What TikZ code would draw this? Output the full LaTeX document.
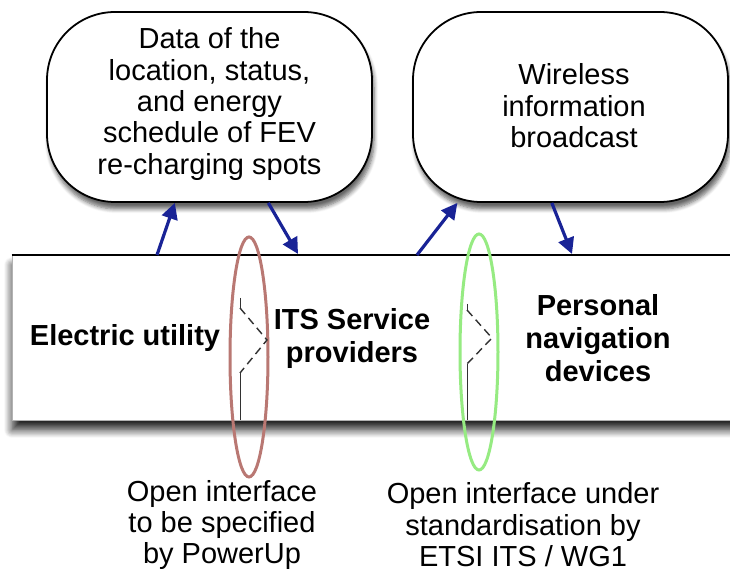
\documentclass[tikz,border=0pt]{standalone}
\usepackage{fontspec}
\setmainfont{Liberation Sans}
\usetikzlibrary{arrows.meta,shadows.blur,shapes.geometric,calc}
\definecolor{arrowblue}{RGB}{25,35,150}
\definecolor{ringred}{RGB}{185,120,115}
\definecolor{ringgreen}{RGB}{150,235,130}
\definecolor{chevgray}{RGB}{50,50,50}
\begin{document}
\begin{tikzpicture}[x=0.5pt,y=-0.5pt,
  txt/.style={font=\fontsize{14.5}{15.7}\selectfont, align=center, inner sep=0pt},
  boldtxt/.style={font=\fontsize{14.5}{16.6}\selectfont\bfseries, align=center, inner sep=0pt},
  infobox/.style={draw=black, line width=0.9pt, fill=white, rounded corners=34pt,
    minimum height=95pt, inner sep=0pt,
    blur shadow={shadow xshift=1pt, shadow yshift=-3.5pt, shadow blur steps=6, shadow opacity=60}},
  band/.style={draw=gray!60, line width=0.4pt, fill=white, inner sep=0pt,
    minimum width=370pt, minimum height=82.5pt,
    blur shadow={shadow xshift=0pt, shadow yshift=-5pt, shadow blur radius=4pt,
      shadow blur steps=10, shadow opacity=85}},
  flow/.style={draw=arrowblue, line width=1.6pt, -{Triangle[length=8pt,width=8pt]}},
  ring/.style={ellipse, draw, line width=1.5pt, minimum width=19pt, inner sep=0pt},
  chev/.style={draw=chevgray, line width=0.4pt},
  chevdash/.style={draw=chevgray, line width=0.7pt, dash pattern=on 4pt off 2.5pt}
]
\useasboundingbox (0,0) rectangle (730,576);

% information boxes
\node[infobox, minimum width=162.5pt] (data) at (209.5,107) {};
\node[infobox, minimum width=157.5pt] (wireless) at (570.5,107) {};
\node[txt] (datatext) at (209.5,104) {Data of the\\location, status,\\and energy\\schedule of FEV\\re-charging spots};
\node[txt] (wltext) at (574,106) {Wireless\\information\\broadcast};

% the actor band
\node[band] (band) at (382,337.5) {};
\draw[line width=1pt] (band.north west) -- (band.north east);

% interface rings
\node[ring, draw=ringred, minimum height=120pt] (ringA) at (249,357) {};
\node[ring, draw=ringgreen, minimum height=118pt] (ringB) at (479,352) {};

% interface chevrons
\coordinate (a0) at (240,298);
\coordinate (a1) at (240,308);
\coordinate (a2) at (267,340);
\coordinate (a3) at (240,373);
\coordinate (a4) at (240,420);
\draw[chev] (a0) -- (a1) (a3) -- (a4);
\draw[chevdash] (a1) -- (a2) -- (a3);
\coordinate (b0) at (467,304);
\coordinate (b1) at (467,310);
\coordinate (b2) at (492,338);
\coordinate (b3) at (467,364);
\coordinate (b4) at (467,420);
\draw[chev] (b0) -- (b1) (b3) -- (b4);
\draw[chevdash] (b1) -- (b2) -- (b3);

% actors
\node[boldtxt] (eu) at (125,338) {Electric utility};
\node[boldtxt] (its) at (352,338.5) {ITS Service\\providers};
\node[boldtxt] (pnd) at (598,338) {Personal\\navigation\\devices};

% data flows
\coordinate (f1) at (157,255);
\coordinate (f2) at (298,254);
\coordinate (f3) at (417,255);
\coordinate (f4) at (572,254);
\draw[flow] (f1) -- ($(data.south west)!0.394!(data.south east)$);
\draw[flow] ($(data.south west)!0.68!(data.south east)$) -- (f2);
\draw[flow] (f3) -- ($(wireless.south west)!0.143!(wireless.south east)$);
\draw[flow] ($(wireless.south west)!0.441!(wireless.south east)$) -- (f4);

% interface captions
\node[txt] (capA) at (222,525) {Open interface\\to be specified\\by PowerUp};
\node[txt] (capB) at (523,525) {Open interface under\\standardisation by\\ETSI ITS / WG1};
\end{tikzpicture}
\end{document}
